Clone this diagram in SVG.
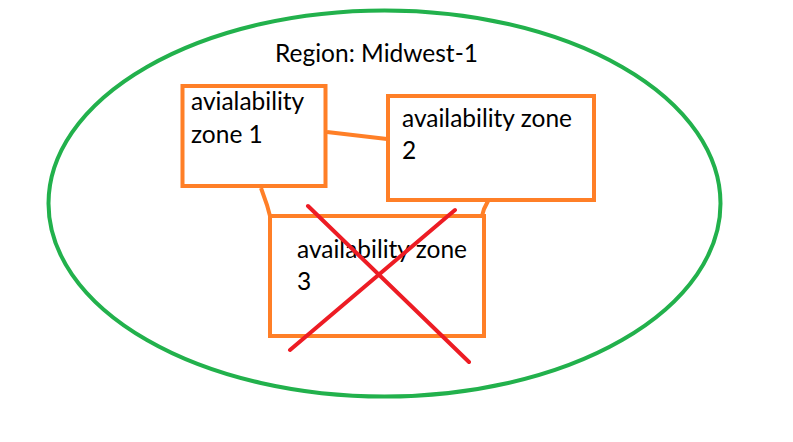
<svg xmlns="http://www.w3.org/2000/svg" width="793" height="442" viewBox="0 0 793 442">
<style>
.zone{fill:none;stroke:#ff7f27;stroke-width:4}
.conn{fill:none;stroke:#ff7f27;stroke-width:4}
.x{stroke:#ed1c24;stroke-width:4;stroke-linecap:round}
text{font-family:Lato,"Open Sans",sans-serif;font-size:24.5px;fill:#000}
</style>
<rect width="793" height="442" fill="#fff"/>
<g id="region">
<ellipse cx="384.5" cy="203.5" rx="336" ry="193" fill="none" stroke="#22b14c" stroke-width="4"/>
<text x="275" y="62">Region: Midwest-1</text>
</g>
<g id="connectors">
<path class="conn" d="M327,132 L387,139"/>
<path class="conn" d="M261,188 L267,205 L270,216"/>
<path class="conn" d="M488,201 L484,209 L482,216"/>
</g>
<g id="zone1">
<rect class="zone" x="182.5" y="86" width="143" height="100"/>
<text x="191" y="110">avialability</text>
<text x="191" y="143">zone 1</text>
</g>
<g id="zone2">
<rect class="zone" x="388" y="96" width="206" height="104"/>
<text x="402" y="127">availability zone</text>
<text x="402" y="159">2</text>
</g>
<g id="zone3">
<rect class="zone" x="270" y="216" width="214" height="120"/>
<text x="297" y="258">availability zone</text>
<text x="297" y="290">3</text>
</g>
<g id="cross">
<line class="x" x1="308" y1="206" x2="469" y2="362"/>
<line class="x" x1="455" y1="210" x2="290" y2="350"/>
</g>
</svg>
